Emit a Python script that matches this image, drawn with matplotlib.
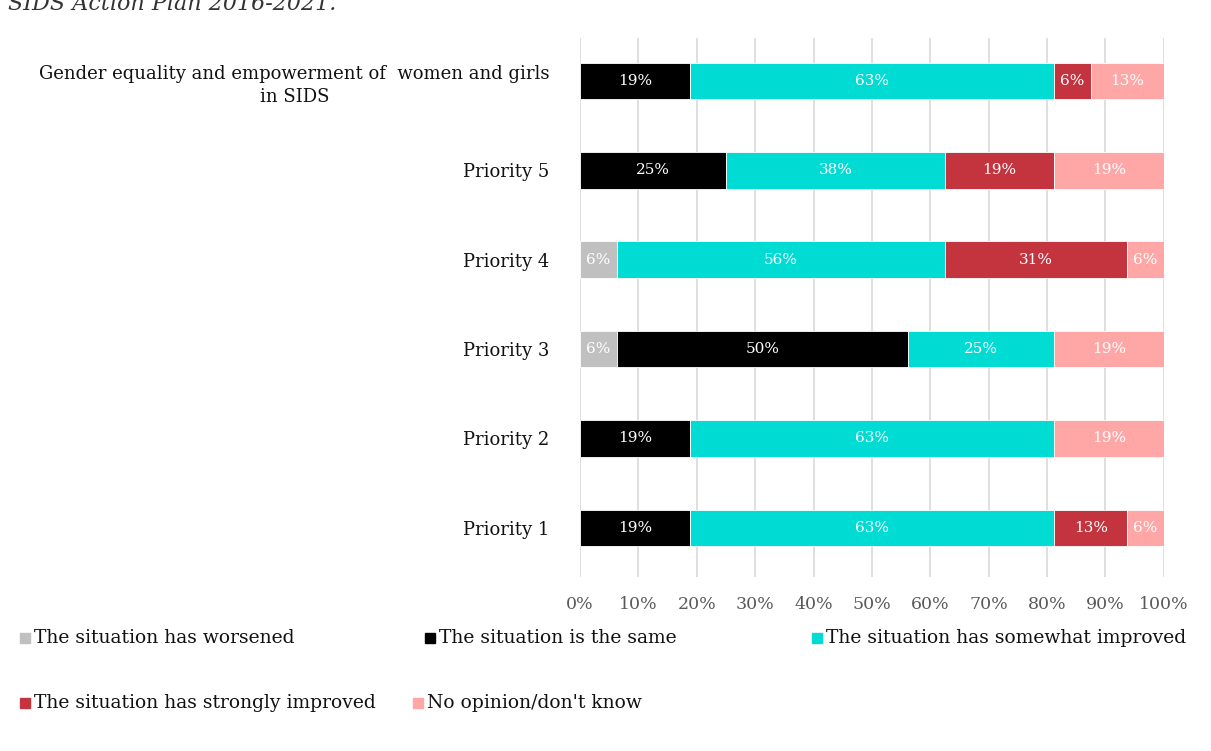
import matplotlib.pyplot as plt
from matplotlib.patches import Rectangle

# Survey responses (% of respondents), bottom row first
categories = ['Priority 1', 'Priority 2', 'Priority 3', 'Priority 4', 'Priority 5',
              'Gender equality and empowerment of  women and girls\nin SIDS']
worsened = [0, 0, 6.25, 6.25, 0, 0]
same = [18.75, 18.75, 50, 0, 25, 18.75]
somewhat = [62.5, 62.5, 25, 56.25, 37.5, 62.5]
strongly = [12.5, 0, 0, 31.25, 18.75, 6.25]
no_opinion = [6.25, 18.75, 18.75, 6.25, 18.75, 12.5]

series_names = ['The situation has worsened', 'The situation is the same',
                'The situation has somewhat improved', 'The situation has strongly improved',
                "No opinion/don't know"]
colors = ['#c0c0c0', '#000000', '#00dcd4', '#c3343f', '#ffa7a7']
xticks = [0, 10, 20, 30, 40, 50, 60, 70, 80, 90, 100]

plt.rcParams['font.family'] = 'DejaVu Serif'

fig = plt.figure(figsize=(12.11, 7.51), dpi=100)
ax = fig.add_axes([0.479, 0.2317, 0.482, 0.7177])

y = list(range(len(categories)))
left = [0.0] * len(categories)
for vals, col in zip([worsened, same, somewhat, strongly, no_opinion], colors):
    ax.barh(y, vals, left=left, height=0.41, color=col, edgecolor='white',
            linewidth=0.6, zorder=3)
    for yi, (l, v) in enumerate(zip(left, vals)):
        if v > 0:
            ax.text(l + v / 2, yi, f'{int(v + 0.5)}%', ha='center', va='center',
                    color='white', fontsize=11, zorder=4)
    left = [l + v for l, v in zip(left, vals)]

ax.set_xlim(0, 100)
ax.set_ylim(-0.55, 5.48)
ax.set_xticks(xticks)
ax.set_xticklabels([f'{t}%' for t in xticks], fontsize=12.5, color='#595959')
ax.set_yticks(y)
ax.set_yticklabels(categories, fontsize=13, color='#111111', multialignment='center',
                   linespacing=1.35)
ax.tick_params(axis='both', length=0)
ax.tick_params(axis='y', pad=22)
ax.tick_params(axis='x', pad=14)
ax.grid(axis='x', color='#d9d9d9', linewidth=1.2, zorder=0)
for s in ax.spines.values():
    s.set_visible(False)

# legend laid out in two rows
legend_pos = [(20, 638), (425, 638), (812, 638), (20, 703), (413, 703)]
W, H = 1211, 751
for (px, py), name, col in zip(legend_pos, series_names, colors):
    fig.add_artist(Rectangle((px / W, (H - py - 5) / H), 10 / W, 10 / H,
                             transform=fig.transFigure, color=col))
    fig.text((px + 14) / W, 1 - py / H, name, fontsize=13.5, color='#111111',
             va='center', ha='left')

# caption line running in from above
fig.text(8 / W, 1 - 10 / H, 'SIDS Action Plan 2016-2021.', fontsize=16,
         style='italic', color='#333333', va='baseline', ha='left')

fig.savefig('out.png', dpi=100)
